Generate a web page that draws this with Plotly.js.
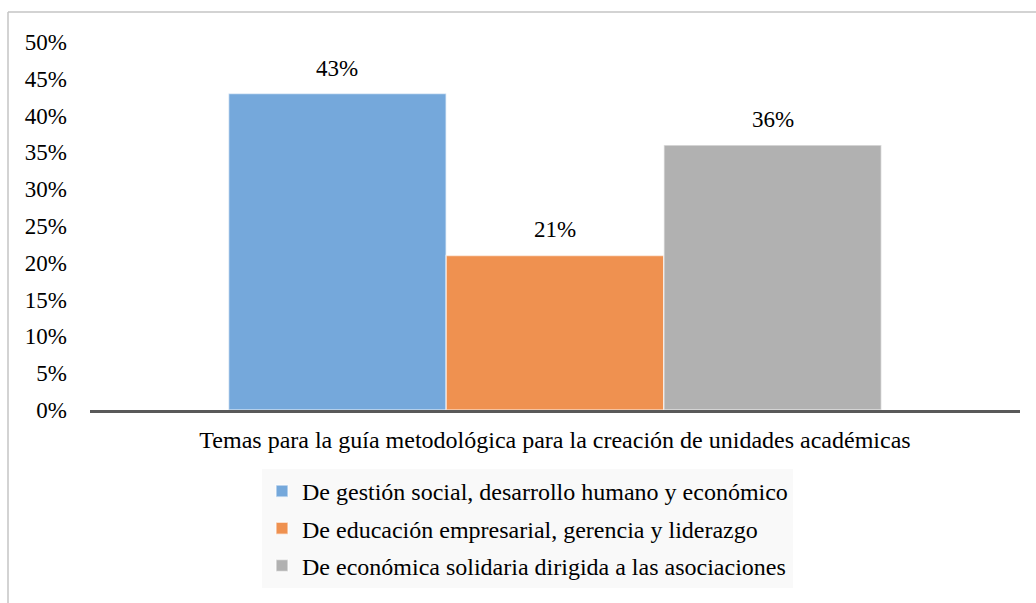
<!DOCTYPE html>
<html>
<head>
<meta charset="utf-8">
<script src="https://cdn.plot.ly/plotly-3.0.1.min.js"></script>
<style>
  html, body { margin: 0; padding: 0; background: #ffffff; }
  #chart { width: 1036px; height: 603px; }
</style>
</head>
<body>
<div id="chart"></div>
<script>
// ---- data ----
const category = ["Temas para la guía metodológica para la creación de unidades académicas"];
const seriesNames = [
  "De gestión social, desarrollo humano y económico",
  "De educación empresarial, gerencia y liderazgo",
  "De económica solidaria dirigida a las asociaciones"
];
const seriesValues = [0.43, 0.21, 0.36];
const seriesColors = ["#75a8db", "#ef9150", "#b1b1b1"];
const yTickValues = [0, 0.05, 0.10, 0.15, 0.20, 0.25, 0.30, 0.35, 0.40, 0.45, 0.50];

const FONT = 'Liberation Serif, Times New Roman, serif';

const traces = seriesNames.map((name, i) => ({
  type: 'bar',
  name: name,
  x: category,
  y: [seriesValues[i]],
  legendgroup: 'g' + i,
  marker: { color: seriesColors[i], line: { color: 'rgba(255,255,255,0.6)', width: 1.5 } },
  hoverinfo: 'skip'
}));

const W = 1036, H = 603;
const M = { l: 90, r: 16, t: 42, b: 193 };
const pw = W - M.l - M.r, ph = H - M.t - M.b;
const px2x = p => (p - M.l) / pw;
const py2y = p => (H - M.b - p) / ph;

const layout = {
  width: W, height: H,
  margin: M,
  paper_bgcolor: '#ffffff',
  plot_bgcolor: '#ffffff',
  font: { family: FONT, size: 23, color: '#000000' },
  barmode: 'group',
  bargap: 0.298,
  bargroupgap: 0,
  showlegend: true,
  legend: {
    orientation: 'v',
    x: px2x(262), xanchor: 'left',
    y: py2y(469), yanchor: 'top',
    bgcolor: '#f9f9f9',
    borderwidth: 0,
    font: { family: FONT, size: 24, color: '#000000' },
    tracegroupgap: 3,
    traceorder: 'grouped'
  },
  xaxis: {
    type: 'category',
    showline: true, linecolor: '#595959', linewidth: 3,
    showgrid: false, zeroline: false, ticks: '',
    tickfont: { family: FONT, size: 24, color: '#000000' },
    ticklabelstandoff: 6,
    fixedrange: true
  },
  yaxis: {
    range: [0, 0.5],
    tickvals: yTickValues,
    tickformat: '.0%',
    showline: false, showgrid: false, zeroline: false, ticks: '',
    tickfont: { family: FONT, size: 23, color: '#000000' },
    ticklabelstandoff: 22,
    fixedrange: true
  },
  shapes: [
    { type: 'line', xref: 'paper', yref: 'paper',
      x0: px2x(8), x1: px2x(W + 2), y0: py2y(12), y1: py2y(12),
      line: { color: '#c4c4c4', width: 1.5 } },
    { type: 'line', xref: 'paper', yref: 'paper',
      x0: px2x(8), x1: px2x(8), y0: py2y(12), y1: py2y(H + 2),
      line: { color: '#c4c4c4', width: 1.5 } }
  ],
  annotations: []
};

const gd = document.getElementById('chart');
Plotly.newPlot(gd, traces, layout, { displayModeBar: false, staticPlot: true }).then(() => {
  // place value labels above each bar using the bar centres Plotly computed
  const anns = gd.calcdata.map((cd, i) => ({
    xref: 'x', yref: 'y',
    x: cd[0].x, y: cd[0].y,
    text: Math.round(seriesValues[i] * 100) + '%',
    showarrow: false,
    xanchor: 'center', yanchor: 'bottom',
    yshift: 11,
    font: { family: FONT, size: 23, color: '#000000' }
  }));
  return Plotly.relayout(gd, { annotations: anns });
});
</script>
</body>
</html>
